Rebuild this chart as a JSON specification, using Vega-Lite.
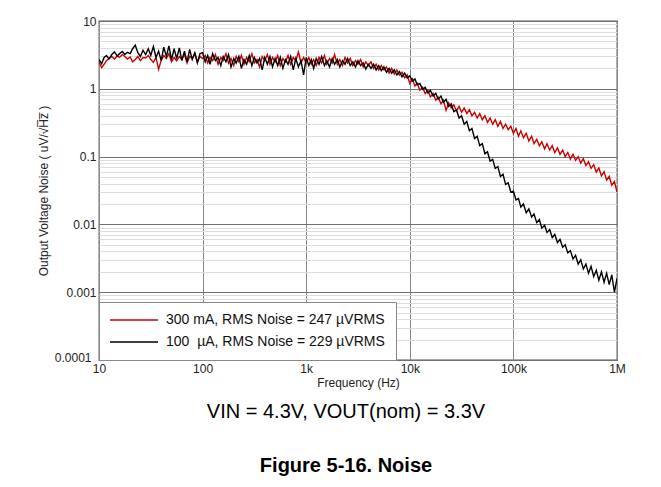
{
  "$schema": "https://vega.github.io/schema/vega-lite/v6.json",
  "width": 518,
  "height": 339,
  "autosize": {"type": "none"},
  "padding": {"left": 99, "top": 21, "right": 44, "bottom": 127},
  "background": "white",
  "config": {
    "view": {"stroke": "#555", "strokeWidth": 1.3},
    "font": "Liberation Sans"
  },
  "title": {
    "text": "VIN = 4.3V, VOUT(nom) = 3.3V",
    "subtitle": "Figure 5-16. Noise",
    "orient": "bottom",
    "anchor": "middle",
    "frame": "group",
    "dx": -12,
    "offset": 14,
    "fontSize": 20,
    "fontWeight": "normal",
    "color": "#000",
    "subtitleFontSize": 20,
    "subtitleFontWeight": "bold",
    "subtitleColor": "#000",
    "subtitlePadding": 34
  },
  "data": {
    "values": [
      {"f": 10, "r": 2.5, "b": 2.7}, {"f": 10.6, "r": 2.05, "b": 2.35}, {"f": 11.2, "r": 2.3, "b": 2.9}, {"f": 11.8, "r": 2.6, "b": 3.1},
      {"f": 12.5, "r": 2.8, "b": 2.75}, {"f": 13.3, "r": 3.0, "b": 3.2}, {"f": 14.1, "r": 2.75, "b": 3.5}, {"f": 15, "r": 3.05, "b": 3.05},
      {"f": 15.8, "r": 2.9, "b": 3.3}, {"f": 16.8, "r": 3.2, "b": 3.55}, {"f": 17.8, "r": 3.0, "b": 3.2}, {"f": 18.8, "r": 2.75, "b": 3.45},
      {"f": 20, "r": 2.95, "b": 3.3}, {"f": 21.1, "r": 2.5, "b": 3.9}, {"f": 22.4, "r": 2.7, "b": 4.4}, {"f": 23.7, "r": 3.0, "b": 3.4},
      {"f": 25.1, "r": 2.6, "b": 3.0}, {"f": 26.6, "r": 2.9, "b": 3.7}, {"f": 28.2, "r": 2.85, "b": 3.2}, {"f": 29.9, "r": 3.1, "b": 3.9},
      {"f": 31.6, "r": 2.7, "b": 3.1}, {"f": 33.5, "r": 2.45, "b": 4.2}, {"f": 35.5, "r": 2.9, "b": 2.9}, {"f": 37.6, "r": 1.95, "b": 3.6},
      {"f": 39.8, "r": 2.6, "b": 2.6}, {"f": 42.2, "r": 3.1, "b": 4.1}, {"f": 44.7, "r": 2.8, "b": 3.0}, {"f": 47.3, "r": 3.3, "b": 4.3},
      {"f": 50.1, "r": 2.5, "b": 2.7}, {"f": 53.1, "r": 2.9, "b": 3.9}, {"f": 56.2, "r": 2.6, "b": 2.8}, {"f": 59.6, "r": 3.0, "b": 4.0},
      {"f": 63.1, "r": 2.7, "b": 2.6}, {"f": 66.8, "r": 3.2, "b": 3.6}, {"f": 70.8, "r": 2.4, "b": 2.5}, {"f": 75, "r": 3.0, "b": 3.8},
      {"f": 79.4, "r": 2.8, "b": 2.7}, {"f": 84.1, "r": 3.3, "b": 3.4}, {"f": 89.1, "r": 2.5, "b": 2.4}, {"f": 94.4, "r": 3.0, "b": 3.3},
      {"f": 100, "r": 2.8, "b": 3.4}, {"f": 106, "r": 3.1, "b": 2.5}, {"f": 112, "r": 2.4, "b": 3.1}, {"f": 118, "r": 2.9, "b": 2.3},
      {"f": 125, "r": 2.6, "b": 3.3}, {"f": 133, "r": 3.2, "b": 2.6}, {"f": 141, "r": 2.3, "b": 2.9}, {"f": 150, "r": 2.9, "b": 2.2},
      {"f": 158, "r": 2.6, "b": 3.0}, {"f": 168, "r": 3.3, "b": 2.5}, {"f": 178, "r": 2.4, "b": 3.2}, {"f": 188, "r": 2.8, "b": 2.1},
      {"f": 200, "r": 2.2, "b": 2.8}, {"f": 211, "r": 3.0, "b": 2.4}, {"f": 224, "r": 2.5, "b": 3.0}, {"f": 237, "r": 3.1, "b": 2.0},
      {"f": 251, "r": 2.3, "b": 2.7}, {"f": 266, "r": 2.9, "b": 2.3}, {"f": 282, "r": 2.5, "b": 3.1}, {"f": 299, "r": 3.3, "b": 2.2},
      {"f": 316, "r": 2.4, "b": 2.9}, {"f": 335, "r": 2.7, "b": 2.4}, {"f": 355, "r": 2.1, "b": 2.8}, {"f": 376, "r": 3.0, "b": 1.9},
      {"f": 398, "r": 2.6, "b": 2.9}, {"f": 422, "r": 3.2, "b": 2.3}, {"f": 447, "r": 2.3, "b": 3.0}, {"f": 473, "r": 2.9, "b": 2.1},
      {"f": 501, "r": 2.5, "b": 2.8}, {"f": 531, "r": 3.1, "b": 2.2}, {"f": 562, "r": 2.2, "b": 2.9}, {"f": 596, "r": 2.8, "b": 2.0},
      {"f": 631, "r": 2.5, "b": 2.7}, {"f": 668, "r": 3.1, "b": 2.3}, {"f": 708, "r": 2.3, "b": 3.0}, {"f": 750, "r": 2.9, "b": 1.9},
      {"f": 794, "r": 2.6, "b": 2.8}, {"f": 841, "r": 3.5, "b": 2.1}, {"f": 891, "r": 2.4, "b": 2.6}, {"f": 944, "r": 2.9, "b": 1.6},
      {"f": 1000, "r": 2.4, "b": 2.9}, {"f": 1060, "r": 2.9, "b": 2.2}, {"f": 1120, "r": 2.3, "b": 2.7}, {"f": 1180, "r": 2.7, "b": 2.0},
      {"f": 1250, "r": 2.2, "b": 2.8}, {"f": 1330, "r": 2.9, "b": 2.3}, {"f": 1410, "r": 2.4, "b": 3.0}, {"f": 1500, "r": 3.1, "b": 2.2},
      {"f": 1580, "r": 2.3, "b": 2.6}, {"f": 1680, "r": 2.8, "b": 2.1}, {"f": 1780, "r": 2.4, "b": 2.8}, {"f": 1880, "r": 3.2, "b": 2.3},
      {"f": 2000, "r": 2.3, "b": 2.7}, {"f": 2110, "r": 2.7, "b": 2.1}, {"f": 2240, "r": 2.2, "b": 2.6}, {"f": 2370, "r": 2.9, "b": 2.3},
      {"f": 2510, "r": 2.4, "b": 2.8}, {"f": 2660, "r": 2.8, "b": 2.2}, {"f": 2820, "r": 2.2, "b": 2.5}, {"f": 2990, "r": 2.6, "b": 2.1},
      {"f": 3160, "r": 2.3, "b": 2.6}, {"f": 3350, "r": 2.7, "b": 2.2}, {"f": 3550, "r": 2.1, "b": 2.4}, {"f": 3760, "r": 2.5, "b": 1.95},
      {"f": 3980, "r": 2.2, "b": 2.3}, {"f": 4220, "r": 2.5, "b": 2.0}, {"f": 4470, "r": 2.0, "b": 2.3}, {"f": 4730, "r": 2.3, "b": 1.9},
      {"f": 5010, "r": 1.9, "b": 2.2}, {"f": 5310, "r": 2.2, "b": 1.85}, {"f": 5620, "r": 1.9, "b": 2.1}, {"f": 5960, "r": 2.1, "b": 1.75},
      {"f": 6310, "r": 1.7, "b": 2.0}, {"f": 6680, "r": 2.0, "b": 1.7}, {"f": 7080, "r": 1.65, "b": 1.9}, {"f": 7500, "r": 1.9, "b": 1.6},
      {"f": 7940, "r": 1.6, "b": 1.8}, {"f": 8410, "r": 1.75, "b": 1.5}, {"f": 8910, "r": 1.45, "b": 1.7}, {"f": 9440, "r": 1.6, "b": 1.45},
      {"f": 10000, "r": 1.2, "b": 1.55}, {"f": 10600, "r": 1.4, "b": 1.3}, {"f": 11200, "r": 1.1, "b": 1.4}, {"f": 11800, "r": 1.2, "b": 1.15},
      {"f": 12500, "r": 0.95, "b": 1.2}, {"f": 13300, "r": 1.05, "b": 0.98}, {"f": 14100, "r": 0.85, "b": 1.05}, {"f": 15000, "r": 0.95, "b": 0.86},
      {"f": 15800, "r": 0.76, "b": 0.95}, {"f": 16800, "r": 0.85, "b": 0.78}, {"f": 17800, "r": 0.68, "b": 0.86}, {"f": 18800, "r": 0.75, "b": 0.7},
      {"f": 20000, "r": 0.6, "b": 0.78}, {"f": 21100, "r": 0.68, "b": 0.63}, {"f": 22400, "r": 0.48, "b": 0.7}, {"f": 23700, "r": 0.62, "b": 0.55},
      {"f": 25100, "r": 0.52, "b": 0.6}, {"f": 26600, "r": 0.58, "b": 0.46}, {"f": 28200, "r": 0.47, "b": 0.49}, {"f": 29900, "r": 0.55, "b": 0.37},
      {"f": 31600, "r": 0.45, "b": 0.4}, {"f": 33500, "r": 0.52, "b": 0.3}, {"f": 35500, "r": 0.43, "b": 0.33}, {"f": 37600, "r": 0.49, "b": 0.24},
      {"f": 39800, "r": 0.4, "b": 0.26}, {"f": 42200, "r": 0.45, "b": 0.185}, {"f": 44700, "r": 0.37, "b": 0.2}, {"f": 47300, "r": 0.43, "b": 0.145},
      {"f": 50100, "r": 0.35, "b": 0.155}, {"f": 53100, "r": 0.4, "b": 0.11}, {"f": 56200, "r": 0.32, "b": 0.118}, {"f": 59600, "r": 0.37, "b": 0.086},
      {"f": 63100, "r": 0.3, "b": 0.091}, {"f": 66800, "r": 0.35, "b": 0.067}, {"f": 70800, "r": 0.28, "b": 0.071}, {"f": 75000, "r": 0.33, "b": 0.051},
      {"f": 79400, "r": 0.26, "b": 0.055}, {"f": 84100, "r": 0.3, "b": 0.039}, {"f": 89100, "r": 0.25, "b": 0.041}, {"f": 94400, "r": 0.28, "b": 0.03},
      {"f": 100000, "r": 0.22, "b": 0.031}, {"f": 106000, "r": 0.26, "b": 0.023}, {"f": 112000, "r": 0.2, "b": 0.024}, {"f": 118000, "r": 0.24, "b": 0.018},
      {"f": 125000, "r": 0.19, "b": 0.02}, {"f": 133000, "r": 0.22, "b": 0.0148}, {"f": 141000, "r": 0.17, "b": 0.017}, {"f": 150000, "r": 0.2, "b": 0.0128},
      {"f": 158000, "r": 0.155, "b": 0.0142}, {"f": 168000, "r": 0.18, "b": 0.0106}, {"f": 178000, "r": 0.145, "b": 0.0118}, {"f": 188000, "r": 0.165, "b": 0.0088},
      {"f": 200000, "r": 0.13, "b": 0.0097}, {"f": 211000, "r": 0.155, "b": 0.0076}, {"f": 224000, "r": 0.125, "b": 0.0084}, {"f": 237000, "r": 0.145, "b": 0.0064},
      {"f": 251000, "r": 0.115, "b": 0.0071}, {"f": 266000, "r": 0.135, "b": 0.0054}, {"f": 282000, "r": 0.108, "b": 0.006}, {"f": 299000, "r": 0.125, "b": 0.0046},
      {"f": 316000, "r": 0.1, "b": 0.005}, {"f": 335000, "r": 0.115, "b": 0.0038}, {"f": 355000, "r": 0.092, "b": 0.0041}, {"f": 376000, "r": 0.108, "b": 0.0031},
      {"f": 398000, "r": 0.088, "b": 0.0035}, {"f": 422000, "r": 0.1, "b": 0.0026}, {"f": 447000, "r": 0.08, "b": 0.003}, {"f": 473000, "r": 0.093, "b": 0.0022},
      {"f": 501000, "r": 0.074, "b": 0.0026}, {"f": 531000, "r": 0.084, "b": 0.0019}, {"f": 562000, "r": 0.067, "b": 0.0024}, {"f": 596000, "r": 0.076, "b": 0.0017},
      {"f": 631000, "r": 0.059, "b": 0.0021}, {"f": 668000, "r": 0.068, "b": 0.0015}, {"f": 708000, "r": 0.052, "b": 0.002}, {"f": 750000, "r": 0.06, "b": 0.0014},
      {"f": 794000, "r": 0.045, "b": 0.0019}, {"f": 841000, "r": 0.051, "b": 0.0013}, {"f": 891000, "r": 0.038, "b": 0.0018}, {"f": 944000, "r": 0.043, "b": 0.001},
      {"f": 1000000, "r": 0.03, "b": 0.0016}
    ]
  },
  "transform": [{"fold": ["r", "b"], "as": ["s", "v"]}],
  "mark": {"type": "line", "strokeWidth": 1.4, "clip": true},
  "encoding": {
    "x": {
      "field": "f",
      "type": "quantitative",
      "scale": {"type": "log", "domain": [10, 1000000], "nice": false},
      "axis": {
        "values": [10, 100, 1000, 10000, 100000, 1000000],
        "labelExpr": "datum.value >= 1000000 ? '1M' : datum.value >= 1000 ? format(datum.value / 1000, 'd') + 'k' : format(datum.value, 'd')",
        "title": "Frequency (Hz)",
        "grid": true,
        "gridColor": "#888",
        "gridWidth": 1,
        "ticks": false,
        "domain": false,
        "labelFontSize": 12,
        "labelColor": "#222",
        "labelPadding": 3,
        "labelFlush": false,
        "titleFontSize": 12,
        "titleFontWeight": "normal",
        "titleColor": "#222",
        "titlePadding": 3
      }
    },
    "y": {
      "field": "v",
      "type": "quantitative",
      "scale": {"type": "log", "domain": [0.0001, 10], "nice": false},
      "axis": {
        "values": [0.0001, 0.0002, 0.0003, 0.0004, 0.0005, 0.0006, 0.0007, 0.0008, 0.0009,
                   0.001, 0.002, 0.003, 0.004, 0.005, 0.006, 0.007, 0.008, 0.009,
                   0.01, 0.02, 0.03, 0.04, 0.05, 0.06, 0.07, 0.08, 0.09,
                   0.1, 0.2, 0.3, 0.4, 0.5, 0.6, 0.7, 0.8, 0.9,
                   1, 2, 3, 4, 5, 6, 7, 8, 9, 10],
        "labelExpr": "datum.value == 10 ? '10' : datum.value == 1 ? '1' : datum.value == 0.1 ? '0.1' : datum.value == 0.01 ? '0.01' : datum.value == 0.001 ? '0.001' : datum.value == 0.0001 ? '0.0001' : ''",
        "labelOverlap": false,
        "title": "Output Voltage Noise ( uV/√H̅z̅ )",
        "grid": true,
        "gridColor": {"condition": {"test": "indexof([10, 1, 0.1, 0.01, 0.001, 0.0001], datum.value) >= 0", "value": "#707070"}, "value": "#dddddd"},
        "gridWidth": 1,
        "ticks": false,
        "domain": false,
        "labelFontSize": 12,
        "labelColor": "#222",
        "labelPadding": {"condition": {"test": "datum.value == 0.0001", "value": 8}, "value": 3},
        "labelOffset": {"condition": {"test": "datum.value == 0.0001", "value": -3}, "value": 0},
        "labelFlush": false,
        "titleFontSize": 12,
        "titleFontWeight": "normal",
        "titleColor": "#222",
        "titlePadding": 4
      }
    },
    "color": {
      "field": "s",
      "type": "nominal",
      "scale": {"domain": ["r", "b"], "range": ["#cc0000", "#000000"]},
      "legend": {
        "orient": "bottom-left",
        "offset": 0,
        "title": null,
        "fillColor": "white",
        "strokeColor": "#888",
        "padding": 11,
        "symbolType": "M-4,0H4",
        "symbolSize": 144,
        "symbolStrokeWidth": 1.3,
        "symbolOffset": 17,
        "labelOffset": 25,
        "labelFontSize": 14,
        "labelColor": "#111",
        "labelLimit": 400,
        "rowPadding": 8,
        "labelExpr": "datum.value == 'r' ? '300 mA, RMS Noise = 247 µVRMS' : '100\u00a0 µA, RMS Noise = 229 µVRMS'"
      }
    }
  }
}
